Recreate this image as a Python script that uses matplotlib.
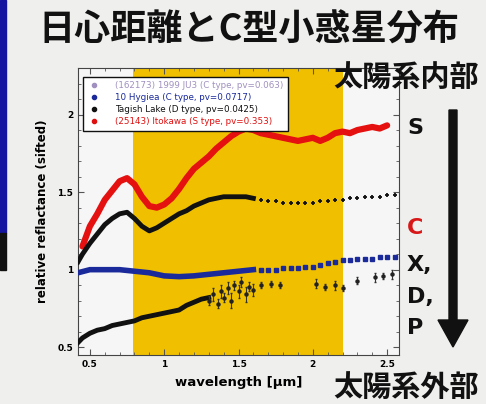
import matplotlib
matplotlib.use("Agg")
import matplotlib.pyplot as plt
from matplotlib.patches import Rectangle, FancyArrow
from matplotlib.lines import Line2D

# ---------------- data ----------------
red_x = [0.45, 0.5, 0.55, 0.6, 0.65, 0.7, 0.75, 0.8, 0.85, 0.9, 0.95, 1.0, 1.05, 1.1, 1.15, 1.2,
         1.25, 1.3, 1.35, 1.4, 1.45, 1.5, 1.55, 1.6, 1.65, 1.7, 1.75, 1.8, 1.85, 1.9, 1.95, 2.0,
         2.05, 2.1, 2.15, 2.2, 2.25, 2.3, 2.35, 2.4, 2.45, 2.5]
red_y = [1.15, 1.28, 1.36, 1.45, 1.51, 1.57, 1.59, 1.55, 1.47, 1.41, 1.40, 1.42, 1.46, 1.52, 1.59, 1.65,
         1.69, 1.73, 1.78, 1.82, 1.86, 1.89, 1.91, 1.90, 1.88, 1.87, 1.86, 1.85, 1.84, 1.83, 1.84, 1.85,
         1.83, 1.85, 1.88, 1.89, 1.88, 1.90, 1.91, 1.92, 1.91, 1.93]

blk_x = [0.42, 0.45, 0.5, 0.55, 0.6, 0.65, 0.7, 0.75, 0.8, 0.85, 0.9, 0.95, 1.0, 1.05, 1.1, 1.15,
         1.2, 1.25, 1.3, 1.35, 1.4, 1.45, 1.5, 1.55, 1.6]
blk_y = [1.05, 1.10, 1.17, 1.23, 1.29, 1.33, 1.36, 1.37, 1.33, 1.28, 1.25, 1.27, 1.30, 1.33, 1.36, 1.38,
         1.41, 1.43, 1.45, 1.46, 1.47, 1.47, 1.47, 1.47, 1.46]
blk_sx = [1.65, 1.7, 1.75, 1.8, 1.85, 1.9, 1.95, 2.0, 2.05, 2.1, 2.15, 2.2, 2.25, 2.3, 2.35, 2.4,
          2.45, 2.5, 2.55]
blk_sy = [1.45, 1.44, 1.44, 1.43, 1.43, 1.43, 1.43, 1.43, 1.44, 1.44, 1.45, 1.45, 1.46, 1.46, 1.47, 1.47,
          1.47, 1.48, 1.48]

blu_x = [0.42, 0.5, 0.6, 0.7, 0.8, 0.9, 1.0, 1.1, 1.2, 1.3, 1.4, 1.5, 1.6]
blu_y = [0.98, 1.0, 1.0, 1.0, 0.99, 0.98, 0.96, 0.955, 0.96, 0.97, 0.98, 0.99, 1.0]
blu_sx = [1.65, 1.7, 1.75, 1.8, 1.85, 1.9, 1.95, 2.0, 2.05, 2.1, 2.15, 2.2, 2.25, 2.3, 2.35, 2.4,
          2.45, 2.5, 2.55]
blu_sy = [1.0, 1.0, 1.0, 1.01, 1.01, 1.01, 1.02, 1.02, 1.03, 1.04, 1.05, 1.06, 1.06, 1.07, 1.07, 1.07,
          1.08, 1.08, 1.08]

low_x = [0.42, 0.45, 0.5, 0.55, 0.6, 0.65, 0.7, 0.75, 0.8, 0.85, 0.9, 0.95, 1.0, 1.05, 1.1, 1.15,
         1.2, 1.25, 1.3]
low_y = [0.53, 0.56, 0.59, 0.61, 0.62, 0.64, 0.65, 0.66, 0.67, 0.69, 0.70, 0.71, 0.72, 0.73, 0.74, 0.77,
         0.79, 0.81, 0.82]
low_sx = [1.30, 1.33, 1.36, 1.38, 1.40, 1.43, 1.45, 1.47, 1.50, 1.52, 1.55, 1.57, 1.60, 1.65, 1.72,
          1.78, 2.02, 2.08, 2.15, 2.20, 2.30, 2.42, 2.47, 2.53]
low_sy = [0.80, 0.84, 0.78, 0.86, 0.82, 0.88, 0.80, 0.90, 0.86, 0.92, 0.84, 0.89, 0.87, 0.90, 0.91,
          0.90, 0.91, 0.89, 0.90, 0.88, 0.93, 0.95, 0.96, 0.97]
low_se = [0.03, 0.04, 0.03, 0.04, 0.03, 0.04, 0.05, 0.03, 0.04, 0.03, 0.05, 0.03, 0.04, 0.02, 0.02,
          0.02, 0.03, 0.02, 0.03, 0.02, 0.02, 0.03, 0.02, 0.03]

legend_labels = ["(162173) 1999 JU3 (C type, pv=0.063)",
                 "10 Hygiea (C type, pv=0.0717)",
                 "Tagish Lake (D type, pv=0.0425)",
                 "(25143) Itokawa (S type, pv=0.353)"]
legend_colors = ["#a090c0", "#1a2a9a", "#111111", "#e01010"]

xticks = [0.5, 1, 1.5, 2, 2.5]
xtick_labels = ["0.5", "1", "1.5", "2", "2.5"]
yticks = [0.5, 1, 1.5, 2]
ytick_labels = ["0.5", "1", "1.5", "2"]
band = (0.79, 2.2)

classes = ["S", "C", "X,", "D,", "P"]
class_colors = ["#111111", "#d81818", "#111111", "#111111", "#111111"]
class_y = [128, 228, 265, 297, 328]

JP = ["Noto Sans CJK JP", "DejaVu Sans"]

# ---------------- figure ----------------
W, H = 486, 404
fig = plt.figure(figsize=(W / 100, H / 100), dpi=100, facecolor="#efefed")

def fx(px):
    return px / W

def fy(py):
    return 1 - py / H

# left strip
fig.patches.append(Rectangle((0, fy(233)), fx(6), fy(0) - fy(233), transform=fig.transFigure,
                             color="#1414a0", zorder=0))
fig.patches.append(Rectangle((0, fy(270)), fx(6), fy(233) - fy(270), transform=fig.transFigure,
                             color="#111111", zorder=0))

ax = fig.add_axes([fx(78), fy(355), fx(399) - fx(78), fy(68) - fy(355)])
ax.set_facecolor("#f6f6f6")
ax.axvspan(band[0], band[1], color="#f0c000", zorder=0, lw=0)

ax.plot(red_x, red_y, color="#e51010", lw=4.5, solid_capstyle="round", zorder=3)
ax.plot(blk_x, blk_y, color="#111111", lw=3.5, zorder=3)
ax.plot(blk_sx, blk_sy, ls="none", marker="+", ms=3.5, mew=1.3, color="#111111", zorder=3)
ax.plot(blu_x, blu_y, color="#1a2a9a", lw=4, zorder=3)
ax.plot(blu_sx, blu_sy, ls="none", marker="s", ms=2.8, color="#1a2a9a", zorder=3)
ax.plot(low_x, low_y, color="#111111", lw=3.5, zorder=3)
ax.errorbar(low_sx, low_sy, yerr=low_se, fmt="o", ms=2.2, color="#222222", ecolor="#333333",
            elinewidth=0.8, capsize=1, zorder=3)

ax.set_xlim(0.42, 2.58)
ax.set_ylim(0.45, 2.3)
ax.set_xticks(xticks)
ax.set_xticklabels(xtick_labels, fontsize=6.5, fontweight="bold")
ax.set_yticks(yticks)
ax.set_yticklabels(ytick_labels, fontsize=6.5, fontweight="bold")
ax.minorticks_on()
ax.tick_params(which="both", direction="in", top=True, right=True, color="#555555")
ax.tick_params(which="major", length=4)
ax.tick_params(which="minor", length=2)
for s in ax.spines.values():
    s.set_color("#444444")
    s.set_linewidth(0.8)

ax.set_ylabel("relative reflactance (sifted)", fontsize=8.5, fontweight="bold", labelpad=6)
ax.set_xlabel("wavelength [µm]", fontsize=9.5, fontweight="bold", labelpad=5)

handles = [Line2D([], [], ls="none", marker="o", ms=3, color=c) for c in legend_colors]
leg = ax.legend(handles, legend_labels, loc="upper left", fontsize=6.3, frameon=True,
                fancybox=False, edgecolor="#111111", framealpha=1, borderpad=0.5,
                handletextpad=1.6, handlelength=1.5, labelspacing=0.35,
                bbox_to_anchor=(0.003, 0.985))
leg.get_frame().set_linewidth(1.0)
for t, c in zip(leg.get_texts(), legend_colors):
    t.set_color(c)

# title and annotations
fig.text(fx(249), fy(30), "日心距離とC型小惑星分布", family=JP, fontsize=26, fontweight="bold",
         ha="center", va="center", color="#111111")
fig.text(fx(406), fy(77), "太陽系内部", family=JP, fontsize=21, fontweight="bold",
         ha="center", va="center", color="#111111")
fig.text(fx(406), fy(387), "太陽系外部", family=JP, fontsize=21, fontweight="bold",
         ha="center", va="center", color="#111111")
for lab, c, yy in zip(classes, class_colors, class_y):
    fig.text(fx(407), fy(yy), lab, fontsize=16, fontweight="bold", ha="left", va="center", color=c,
             family="DejaVu Sans")

fig.patches.append(FancyArrow(fx(453), fy(110), 0, fy(347) - fy(110), width=fx(8),
                              head_width=fx(30), head_length=(fy(320) - fy(347)),
                              length_includes_head=True, transform=fig.transFigure,
                              color="#111111", zorder=5))

fig.savefig("out.png", dpi=100, facecolor=fig.get_facecolor())
